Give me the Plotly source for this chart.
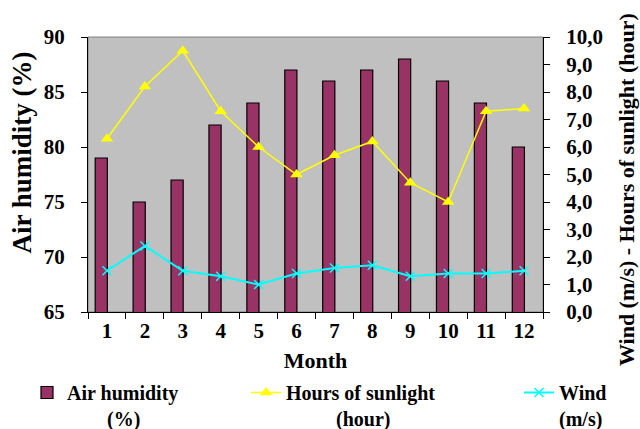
import plotly.graph_objects as go

months = ["1", "2", "3", "4", "5", "6", "7", "8", "9", "10", "11", "12"]
humidity = [79, 75, 77, 82, 84, 87, 86, 87, 88, 86, 84, 80]
sunlight = [6.3, 8.2, 9.5, 7.3, 6.0, 5.0, 5.7, 6.2, 4.7, 4.0, 7.3, 7.4]
wind = [1.5, 2.4, 1.5, 1.3, 1.0, 1.4, 1.6, 1.7, 1.3, 1.4, 1.4, 1.5]

left_ticks = [65, 70, 75, 80, 85, 90]
right_ticks = [0, 1, 2, 3, 4, 5, 6, 7, 8, 9, 10]
right_tick_text = ["0,0", "1,0", "2,0", "3,0", "4,0", "5,0", "6,0", "7,0", "8,0", "9,0", "10,0"]

FONT = "Liberation Serif"
NB = "\u00a0"
W, H = 640, 429

fig = go.Figure()
fig.add_trace(go.Bar(
    x=months, y=humidity, name="Air humidity<br>" + NB * 8 + "(%)",
    marker=dict(color="#993366", line=dict(color="black", width=1.2)),
    width=0.32, offset=-0.31, yaxis="y", legend="legend",
))
fig.add_trace(go.Scatter(
    x=months, y=sunlight, name="Hours of sunlight<br>" + NB * 10 + "(hour)",
    mode="lines+markers", yaxis="y2", legend="legend2",
    line=dict(color="#FFFF00", width=1.5),
    marker=dict(symbol="triangle-up", size=11, color="#FFFF00"),
))
fig.add_trace(go.Scatter(
    x=months, y=wind, name="Wind<br>(m/s)",
    mode="lines+markers", yaxis="y2", legend="legend3",
    line=dict(color="#00FFFF", width=2),
    marker=dict(symbol="x-thin", size=9, line=dict(color="#00FFFF", width=1.5)),
))

tickfont = dict(family=FONT, size=21, color="black", weight="bold")
legfont = dict(family=FONT, size=20, color="black", weight="bold")


def leg(xpx, ypx):
    return dict(orientation="h", xref="container", yref="container",
                x=xpx / W, y=1 - ypx / H, xanchor="left", yanchor="top", valign="top",
                font=legfont, bgcolor="rgba(0,0,0,0)", itemwidth=30)


fig.update_layout(
    width=W, height=H,
    margin=dict(l=88, r=97, t=37, b=117, autoexpand=False),
    paper_bgcolor="white", plot_bgcolor="#C0C0C0",
    showlegend=True,
    xaxis=dict(
        type="category", categoryorder="array", categoryarray=months, range=[-0.5, 11.5],
        tickson="boundaries", ticks="outside", ticklen=6, tickcolor="black",
        showline=True, linecolor="black", linewidth=1, showgrid=False,
        tickfont=tickfont, ticklabelstandoff=0, automargin=False,
        title=dict(text="Month", font=dict(family=FONT, size=22, color="black", weight="bold"), standoff=10),
    ),
    yaxis=dict(
        range=[65, 90], tickvals=left_ticks, ticks="outside", ticklen=6, tickcolor="black",
        showline=True, linecolor="black", linewidth=1, showgrid=False, zeroline=False,
        tickfont=tickfont, ticklabelstandoff=12, automargin=False,
    ),
    yaxis2=dict(
        range=[0, 10], tickvals=right_ticks, ticktext=right_tick_text, overlaying="y", side="right",
        ticks="outside", ticklen=6, tickcolor="black",
        showline=True, linecolor="black", linewidth=1, showgrid=False, zeroline=False,
        tickfont=tickfont, ticklabelstandoff=12, automargin=False,
    ),
    legend=leg(27, 373),
    legend2=leg(246, 373),
    legend3=leg(519, 373),
    shapes=[dict(type="rect", xref="paper", yref="paper", x0=0, x1=1, y0=0, y1=1,
                 line=dict(color="#808080", width=1), layer="below")],
    annotations=[
        dict(text="Air humidity (%)", xref="paper", yref="paper", x=-0.147, y=0.58,
             textangle=-90, showarrow=False, xanchor="center", yanchor="middle",
             font=dict(family=FONT, size=27, color="black", weight="bold")),
        dict(text="Wind (m/s) - Hours of sunlight (hour)", xref="paper", yref="paper", x=1.185, y=0.444,
             textangle=-90, showarrow=False, xanchor="center", yanchor="middle",
             font=dict(family=FONT, size=22, color="black", weight="bold")),
    ],
)
fig.write_html("out.html", config={"displayModeBar": False},
               post_script="document.body.style.margin='0';document.body.style.overflow='hidden';")
